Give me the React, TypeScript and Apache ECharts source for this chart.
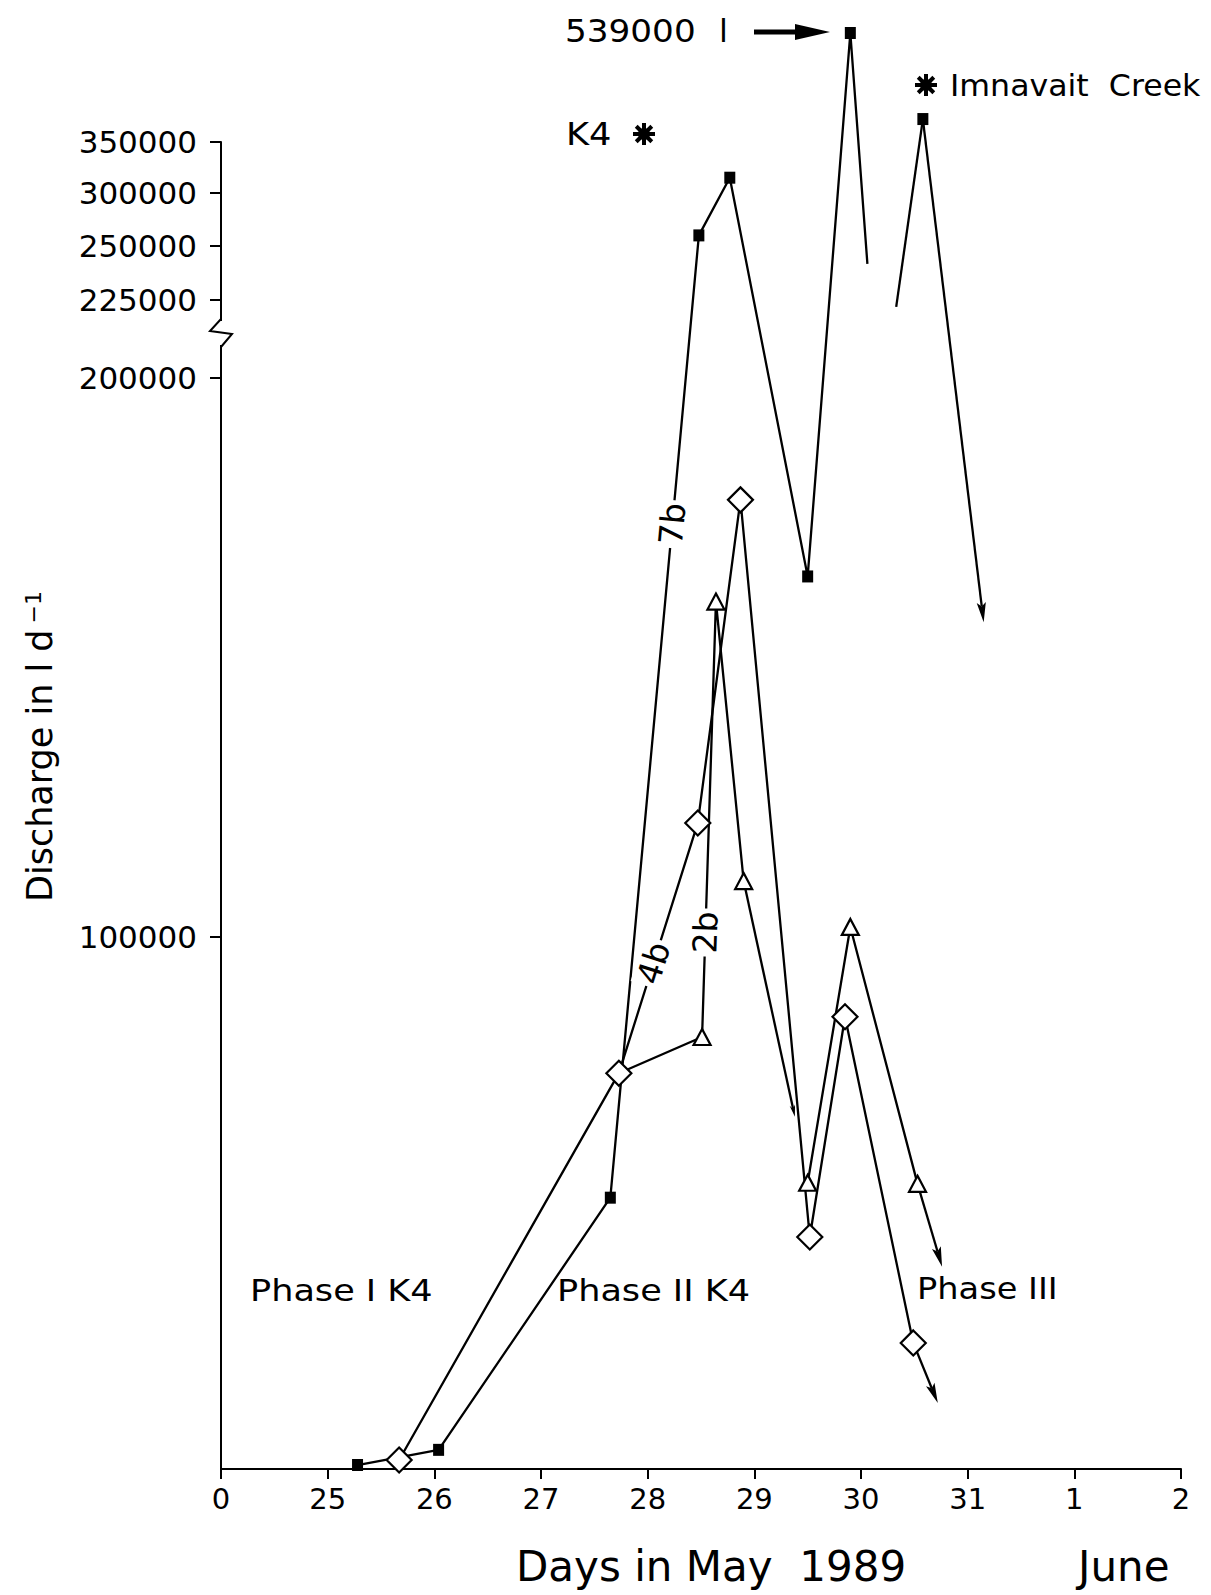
import React, { useEffect, useRef } from "react";
import * as echarts from "echarts";

// ---------- axis definitions ----------
// x axis runs from the "0" tick (drawn one day left of 25) to June 2
const xTickLabels = ["0", "25", "26", "27", "28", "29", "30", "31", "1", "2"];
const xMin = 24;
const xMax = 33;

// y axis is broken / hand drawn: discharge value -> height above x axis (axis units)
const yScaleValues = [0, 100000, 200000, 225000, 250000, 300000, 350000, 400000, 539000];
const yScaleHeights = [0, 532, 1091, 1169, 1223, 1276, 1327, 1378, 1436];
const yTickValues = [100000, 200000, 225000, 250000, 300000, 350000];
const yAxisTop = 1327;

// ---------- data (day in May 1989, discharge l/d) ----------
// filled squares (7b)
const squareDays = [25.28, 26.04, 27.65, 28.48, 28.77, 29.5, 29.9, 30.58];
const squareFlow = [750, 3600, 51000, 260000, 315000, 164500, 539000, 372500];
const squareGapFrom = [30.06, 241700];
const squareGapTo = [30.33, 222800];
const squareArrowTip = [31.15, 156300];

// open diamonds (4b)
const diamondDays = [25.67, 27.73, 28.47, 28.87, 29.52, 29.85, 30.49];
const diamondFlow = [1700, 74400, 120400, 178200, 43600, 85000, 23700];
const diamondArrowTip = [30.72, 12400];

// open triangles (2b) - line starts at the 27.73 diamond
const triangleDays = [28.51, 28.64, 28.9, 29.5, 29.9, 30.53];
const triangleFlow = [81200, 160000, 110000, 53800, 101800, 53600];
const triangleArrowTip1 = [29.38, 66200];
const triangleArrowTip2 = [30.76, 38000];

const curveLabels = ["7b", "4b", "2b"];

function toH(v: number): number {
  const n = yScaleValues.length;
  if (v <= yScaleValues[0]) return yScaleHeights[0];
  for (let i = 1; i < n; i++) {
    if (v <= yScaleValues[i]) {
      const a = yScaleValues[i - 1], b = yScaleValues[i];
      const ha = yScaleHeights[i - 1], hb = yScaleHeights[i];
      return ha + ((v - a) / (b - a)) * (hb - ha);
    }
  }
  return yScaleHeights[n - 1];
}

const pt = (d: number, v: number) => [d, toH(v)];

const FONT = "DejaVu Sans";
const LW = 2.3;

function star(cx: number, cy: number, r: number) {
  const children: any[] = [];
  for (let k = 0; k < 4; k++) {
    const a = (k * Math.PI) / 4;
    children.push({
      type: "line",
      shape: {
        x1: cx - r * Math.cos(a),
        y1: cy - r * Math.sin(a),
        x2: cx + r * Math.cos(a),
        y2: cy + r * Math.sin(a),
      },
      style: { stroke: "#000", lineWidth: 4 },
    });
  }
  children.push({ type: "circle", shape: { cx, cy, r: 6 }, style: { fill: "#000" } });
  return { type: "group", children };
}

function label(text: string, x: number, y: number, size: number, sx: number) {
  return {
    type: "text",
    x,
    y,
    scaleX: sx,
    style: { text, font: `${size}px '${FONT}'`, fill: "#000", verticalAlign: "middle" },
  };
}

export default function App() {
  const ref = useRef<HTMLDivElement>(null);

  useEffect(() => {
    document.body.style.margin = "0";
    if (!ref.current) return;
    const chart = echarts.init(ref.current, undefined, { renderer: "svg" });

    const sq = squareDays.map((d, i) => pt(d, squareFlow[i]));
    const di = diamondDays.map((d, i) => pt(d, diamondFlow[i]));
    const tr = triangleDays.map((d, i) => pt(d, triangleFlow[i]));

    const squareSeg1 = [...sq.slice(0, 7), pt(squareGapFrom[0], squareGapFrom[1])];
    const squareSeg2 = [pt(squareGapTo[0], squareGapTo[1]), sq[7]];
    const triSeg1 = [di[1], tr[0], tr[1], tr[2]];
    const triSeg2 = [tr[3], tr[4], tr[5]];

    const arrows = [
      [...sq[7], ...pt(squareArrowTip[0], squareArrowTip[1]), 20],
      [...di[6], ...pt(diamondArrowTip[0], diamondArrowTip[1]), 20],
      [...tr[2], ...pt(triangleArrowTip1[0], triangleArrowTip1[1]), 12],
      [...tr[5], ...pt(triangleArrowTip2[0], triangleArrowTip2[1]), 20],
    ];

    const labelSegs = [
      [...sq[2], ...sq[3], 0.7],
      [...di[1], ...di[2], 0.44],
      [...tr[0], ...tr[1], 0.24],
    ];

    const lineStyle = { color: "#000", width: LW, opacity: 1 };
    const lineSeries = (data: number[][]) => ({
      type: "line",
      data,
      symbol: "none",
      lineStyle,
      clip: false,
      z: 2,
      silent: true,
    });

    const yTickH = yTickValues.map(toH);

    const option: any = {
      animation: false,
      backgroundColor: "#fff",
      textStyle: { fontFamily: FONT },
      grid: { left: 221, top: 142, width: 960, height: yAxisTop },
      xAxis: {
        type: "value",
        min: xMin,
        max: xMax,
        interval: 1,
        axisLine: { show: true, lineStyle: { color: "#000", width: 2 } },
        axisTick: { show: true, length: 10, lineStyle: { color: "#000", width: 2 } },
        axisLabel: {
          color: "#000",
          fontSize: 29,
          fontFamily: FONT,
          margin: 15,
          formatter: (v: number) => xTickLabels[Math.round(v - xMin)] ?? "",
        },
        splitLine: { show: false },
      },
      yAxis: {
        type: "value",
        min: 0,
        max: yAxisTop,
        axisLine: { show: true, lineStyle: { color: "#000", width: 2 } },
        axisTick: {
          show: true,
          length: 11,
          customValues: yTickH,
          lineStyle: { color: "#000", width: 2 },
        },
        axisLabel: {
          color: "#000",
          fontSize: 31,
          fontFamily: FONT,
          margin: 24,
          customValues: yTickH,
          formatter: (v: number) => {
            const i = yTickH.findIndex((h) => Math.abs(h - v) < 0.5);
            return i >= 0 ? String(yTickValues[i]) : "";
          },
        },
        splitLine: { show: false },
      },
      series: [
        lineSeries(squareSeg1),
        lineSeries(squareSeg2),
        lineSeries(di),
        lineSeries(triSeg1),
        lineSeries(triSeg2),
        {
          type: "custom",
          clip: false,
          z: 3,
          silent: true,
          data: arrows,
          encode: { x: [0, 2], y: [1, 3] },
          renderItem: (params: any, api: any) => {
            const p1 = api.coord([api.value(0), api.value(1)]);
            const p2 = api.coord([api.value(2), api.value(3)]);
            const hl = api.value(4);
            const dx = p2[0] - p1[0];
            const dy = p2[1] - p1[1];
            const len = Math.hypot(dx, dy);
            const ux = dx / len;
            const uy = dy / len;
            const hw = hl * 0.23;
            const bx = p2[0] - ux * hl;
            const by = p2[1] - uy * hl;
            return {
              type: "group",
              children: [
                {
                  type: "line",
                  shape: { x1: p1[0], y1: p1[1], x2: bx + ux * 4, y2: by + uy * 4 },
                  style: { stroke: "#000", lineWidth: LW },
                },
                {
                  type: "polygon",
                  shape: {
                    points: [
                      [p2[0], p2[1]],
                      [bx - uy * hw, by + ux * hw],
                      [bx + ux * 4, by + uy * 4],
                      [bx + uy * hw, by - ux * hw],
                    ],
                  },
                  style: { fill: "#000" },
                },
              ],
            };
          },
        },
        {
          type: "scatter",
          data: sq,
          symbol: "rect",
          symbolSize: [11, 12],
          itemStyle: { color: "#000", opacity: 1 },
          clip: false,
          z: 5,
          silent: true,
        },
        {
          type: "scatter",
          data: tr,
          symbol: "triangle",
          symbolSize: [17, 16],
          itemStyle: { color: "#fff", borderColor: "#000", borderWidth: 2.2, opacity: 1 },
          clip: false,
          z: 5,
          silent: true,
        },
        {
          type: "scatter",
          data: di,
          symbol: "diamond",
          symbolSize: [25, 25],
          itemStyle: { color: "#fff", borderColor: "#000", borderWidth: 2.2, opacity: 1 },
          clip: false,
          z: 6,
          silent: true,
        },
        {
          type: "custom",
          clip: false,
          z: 7,
          silent: true,
          data: labelSegs,
          encode: { x: [0, 2], y: [1, 3] },
          renderItem: (params: any, api: any) => {
            const p1 = api.coord([api.value(0), api.value(1)]);
            const p2 = api.coord([api.value(2), api.value(3)]);
            const f = api.value(4);
            const x = p1[0] + (p2[0] - p1[0]) * f;
            const y = p1[1] + (p2[1] - p1[1]) * f;
            const ang = Math.atan2(-(p2[1] - p1[1]), p2[0] - p1[0]);
            return {
              type: "text",
              x,
              y,
              rotation: ang,
              style: {
                text: curveLabels[params.dataIndex],
                fill: "#000",
                font: `33px '${FONT}'`,
                align: "center",
                verticalAlign: "middle",
                backgroundColor: "#fff",
                padding: [0, 3, 0, 3],
              },
            };
          },
        },
      ],
      graphic: [
        // y axis break
        { type: "rect", shape: { x: 215, y: 321, width: 12, height: 24 }, style: { fill: "#fff" }, z: 50 },
        {
          type: "polyline",
          shape: { points: [[221, 319], [210, 331], [232, 334], [221, 347]] },
          style: { stroke: "#000", lineWidth: 2, fill: null },
          z: 51,
        },
        // axis titles
        {
          type: "text",
          x: 40,
          y: 902,
          rotation: Math.PI / 2,
          style: {
            text: "{a|Discharge in l d}{b|−1}",
            align: "left",
            verticalAlign: "middle",
            rich: {
              a: { font: `35px '${FONT}'`, fill: "#000" },
              b: { font: `22px '${FONT}'`, fill: "#000", verticalAlign: "top", padding: [0, 0, 0, 6] },
            },
          },
        },
        label("Days in May  1989", 516, 1566, 42, 1),
        label("June", 1078, 1566, 42, 1),
        // phase labels
        label("Phase I K4", 250, 1291, 30, 1.17),
        label("Phase II K4", 557, 1291, 30, 1.17),
        label("Phase III", 917, 1289, 30, 1.12),
        // top annotations
        label("539000", 565, 31, 32, 1.07),
        label("l", 719, 31, 32, 1),
        { type: "line", shape: { x1: 754, y1: 32, x2: 800, y2: 32 }, style: { stroke: "#000", lineWidth: 5 } },
        {
          type: "polygon",
          shape: { points: [[795, 24], [830, 32], [795, 40]] },
          style: { fill: "#000" },
        },
        label("K4", 566, 134, 32, 1.1),
        star(644, 134, 11),
        star(926, 85, 11),
        label("Imnavait  Creek", 950, 85, 31, 1.02),
      ],
    };

    chart.setOption(option);
    return () => chart.dispose();
  }, []);

  return <div ref={ref} style={{ width: 1211, height: 1595 }} />;
}
